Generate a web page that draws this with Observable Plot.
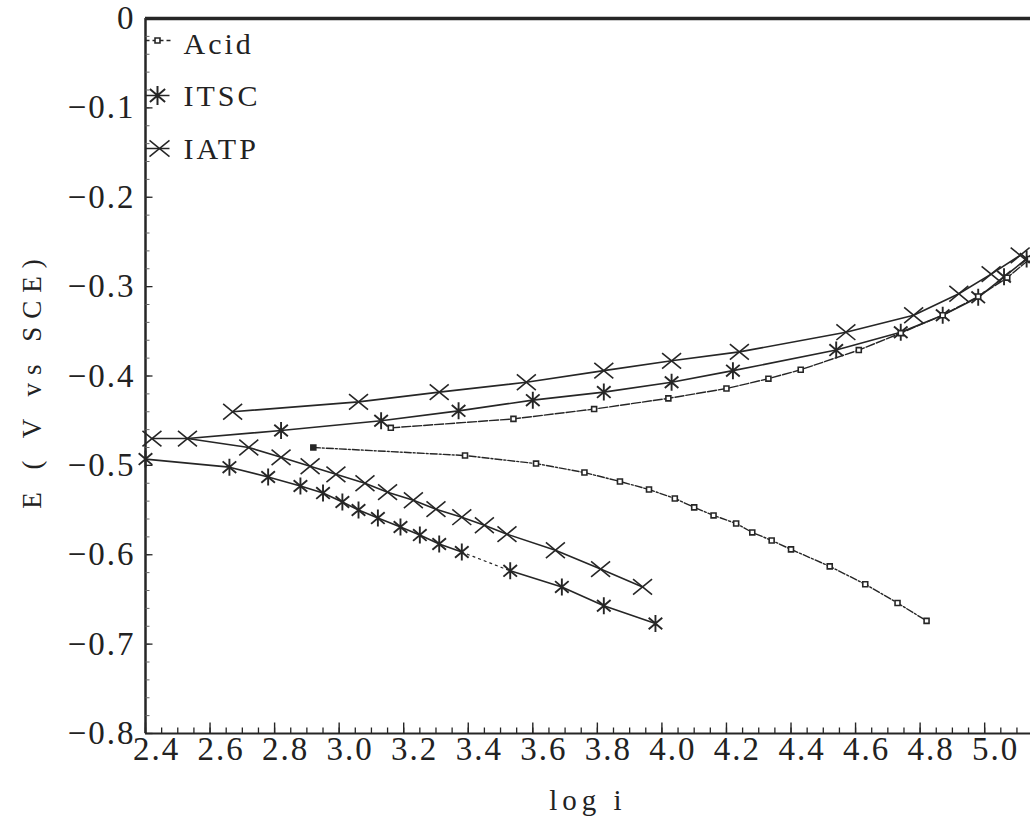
<!DOCTYPE html>
<html>
<head>
<meta charset="utf-8">
<script src="https://cdn.jsdelivr.net/npm/d3@7"></script>
<script src="https://cdn.jsdelivr.net/npm/@observablehq/plot@0.6"></script>
<style>
html, body { margin: 0; padding: 0; background: #fff; }
#chart svg text { font-family: "Liberation Serif", serif !important; }
#chart svg g[font-size="33"] text { letter-spacing: 2px; }
#chart svg g[font-size="30"] text { letter-spacing: 3px; }
#chart svg g[font-size="27"] text { letter-spacing: 8px; }
#chart svg g[font-size="29"] text { letter-spacing: 5px; }
</style>
</head>
<body>
<div id="chart"></div>
<script>
// ---- data (log i, E in V vs SCE) ----
const acidAnodicX = [3.16, 3.54, 3.79, 4.02, 4.20, 4.33, 4.43, 4.61, 4.74, 4.87, 4.98, 5.07, 5.14];
const acidAnodicE = [-0.458, -0.448, -0.437, -0.425, -0.414, -0.403, -0.393, -0.371, -0.352, -0.332, -0.311, -0.290, -0.269];
const acidCathodicX = [2.92, 3.39, 3.61, 3.76, 3.87, 3.96, 4.04, 4.10, 4.16, 4.23, 4.28, 4.34, 4.40, 4.52, 4.63, 4.73, 4.82];
const acidCathodicE = [-0.480, -0.489, -0.498, -0.508, -0.518, -0.527, -0.537, -0.547, -0.556, -0.565, -0.575, -0.584, -0.594, -0.613, -0.633, -0.654, -0.674];

const itscAnodicStartX = [2.53];
const itscAnodicStartE = [-0.470];
const itscAnodicX = [2.82, 3.13, 3.37, 3.60, 3.82, 4.03, 4.22, 4.54, 4.74, 4.87, 4.98, 5.06, 5.13];
const itscAnodicE = [-0.461, -0.450, -0.439, -0.427, -0.418, -0.407, -0.394, -0.371, -0.351, -0.332, -0.312, -0.289, -0.269];
const itscCathodicX1 = [2.40, 2.66, 2.78, 2.88, 2.95, 3.01, 3.06, 3.12, 3.19, 3.25, 3.31, 3.38];
const itscCathodicE1 = [-0.493, -0.502, -0.513, -0.523, -0.531, -0.541, -0.550, -0.559, -0.569, -0.578, -0.588, -0.597];
const itscCathodicX2 = [3.53, 3.69, 3.82, 3.98];
const itscCathodicE2 = [-0.618, -0.636, -0.657, -0.677];

const iatpAnodicX = [2.67, 3.06, 3.31, 3.58, 3.82, 4.03, 4.24, 4.57, 4.78, 4.92, 5.02, 5.11];
const iatpAnodicE = [-0.440, -0.429, -0.418, -0.407, -0.394, -0.383, -0.373, -0.351, -0.332, -0.308, -0.286, -0.265];
const iatpCathodicX = [2.42, 2.53, 2.72, 2.82, 2.91, 2.99, 3.08, 3.15, 3.23, 3.30, 3.38, 3.45, 3.52, 3.67, 3.81, 3.94];
const iatpCathodicE = [-0.470, -0.470, -0.480, -0.491, -0.501, -0.510, -0.520, -0.530, -0.539, -0.549, -0.558, -0.567, -0.577, -0.595, -0.616, -0.636];

const legendLabels = ["Acid", "ITSC", "IATP"];
const xTickValues = [2.4, 2.6, 2.8, 3.0, 3.2, 3.4, 3.6, 3.8, 4.0, 4.2, 4.4, 4.6, 4.8, 5.0];
const yTickValues = [0, -0.1, -0.2, -0.3, -0.4, -0.5, -0.6, -0.7, -0.8];
const xTitle = "log i";
const yTitle = "E ( V vs SCE)";

// ---- helpers ----
const pts = (xs, es) => xs.map((x, i) => ({x, e: es[i]}));
const ink = "#262626";
const serif = "Liberation Serif";

const symAsterisk = { draw(ctx, size) {
  const r = Math.sqrt(size / Math.PI);
  const a = r * 0.8;
  ctx.moveTo(0, -r); ctx.lineTo(0, r);
  ctx.moveTo(-a, -a * 0.85); ctx.lineTo(a, a * 0.85);
  ctx.moveTo(-a, a * 0.85); ctx.lineTo(a, -a * 0.85);
}};
const symCross = { draw(ctx, size) {
  const r = Math.sqrt(size / Math.PI);
  const b = r * 0.82;
  ctx.moveTo(-r, -b); ctx.lineTo(r, b);
  ctx.moveTo(-r, b); ctx.lineTo(r, -b);
}};
const symTickRight = { draw(ctx, size) {
  const r = Math.sqrt(size / Math.PI);
  ctx.moveTo(0, 0); ctx.lineTo(r, 0);
}};
const symTickUp = { draw(ctx, size) {
  const r = Math.sqrt(size / Math.PI);
  ctx.moveTo(0, 0); ctx.lineTo(0, -r);
}};
const symHLine = { draw(ctx, size) {
  const r = Math.sqrt(size / Math.PI);
  ctx.moveTo(-r, 0); ctx.lineTo(r, 0);
}};

const acidA = pts(acidAnodicX, acidAnodicE);
const acidC = pts(acidCathodicX, acidCathodicE);
const itscStart = pts(itscAnodicStartX, itscAnodicStartE);
const itscA = pts(itscAnodicX, itscAnodicE);
const itscC1 = pts(itscCathodicX1, itscCathodicE1);
const itscC2 = pts(itscCathodicX2, itscCathodicE2);
const iatpA = pts(iatpAnodicX, iatpAnodicE);
const iatpC = pts(iatpCathodicX, iatpCathodicE);

const xMinor = d3.range(0, 55).map(i => 2.4 + i * 0.05).filter(v => v <= 5.14);
const yMinor = d3.range(0, 41).map(i => -i * 0.02);

const lineOpts = {x: "x", y: "e", stroke: ink, strokeWidth: 1.6};

const legendMarks = [
  // Acid
  Plot.dot([legendLabels[0]], {frameAnchor: "top-left", dx: 13, dy: 22, symbol: symHLine, r: 13, fill: "none", stroke: ink, strokeWidth: 1.5, strokeDasharray: "4,3"}),
  Plot.dot([legendLabels[0]], {frameAnchor: "top-left", dx: 12, dy: 22, symbol: "square", r: 2.8, fill: "white", stroke: ink, strokeWidth: 1.6}),
  Plot.text([legendLabels[0]], {frameAnchor: "top-left", dx: 38, dy: 26, textAnchor: "start", lineAnchor: "middle", fontSize: 30, fontFamily: serif, fill: "#222"}),
  // ITSC
  Plot.dot([legendLabels[1]], {frameAnchor: "top-left", dx: 12, dy: 77, symbol: symHLine, r: 12, fill: "none", stroke: ink, strokeWidth: 1.5}),
  Plot.dot([legendLabels[1]], {frameAnchor: "top-left", dx: 12, dy: 77, symbol: symAsterisk, r: 9.5, fill: "none", stroke: ink, strokeWidth: 2}),
  Plot.text([legendLabels[1]], {frameAnchor: "top-left", dx: 38, dy: 78, textAnchor: "start", lineAnchor: "middle", fontSize: 30, fontFamily: serif, fill: "#222"}),
  // IATP
  Plot.dot([legendLabels[2]], {frameAnchor: "top-left", dx: 12, dy: 130, symbol: symHLine, r: 12, fill: "none", stroke: ink, strokeWidth: 1.5}),
  Plot.dot([legendLabels[2]], {frameAnchor: "top-left", dx: 14, dy: 130, symbol: symCross, r: 10, fill: "none", stroke: ink, strokeWidth: 1.5}),
  Plot.text([legendLabels[2]], {frameAnchor: "top-left", dx: 38, dy: 131, textAnchor: "start", lineAnchor: "middle", fontSize: 30, fontFamily: serif, fill: "#222"})
];

const chart = Plot.plot({
  width: 1030,
  height: 829,
  marginLeft: 145,
  marginRight: 0,
  marginTop: 18,
  marginBottom: 96,
  x: {domain: [2.4, 5.142], axis: null},
  y: {domain: [-0.8, 0], axis: null},
  style: "background: #fff; color: #222; font-family: 'Liberation Serif', serif;",
  marks: [
    // frame lines
    Plot.ruleY([0], {stroke: ink, strokeWidth: 3.5}),
    Plot.ruleY([-0.8], {stroke: ink, strokeWidth: 2}),
    Plot.ruleX([2.4], {stroke: ink, strokeWidth: 2.5}),
    // inward ticks
    Plot.dot(yMinor, {y: d => d, frameAnchor: "left", symbol: symTickRight, r: 4, fill: "none", stroke: "#666", strokeWidth: 1}),
    Plot.dot(yTickValues, {y: d => d, frameAnchor: "left", symbol: symTickRight, r: 7, fill: "none", stroke: ink, strokeWidth: 1.3}),
    Plot.dot(xMinor, {x: d => d, frameAnchor: "bottom", symbol: symTickUp, r: 6, fill: "none", stroke: ink, strokeWidth: 1.3}),
    Plot.dot(xTickValues, {x: d => d, frameAnchor: "bottom", symbol: symTickUp, r: 11, fill: "none", stroke: ink, strokeWidth: 1.4}),
    // tick labels
    Plot.axisX(xTickValues, {anchor: "bottom", tickSize: 0, tickPadding: 3, dx: 11, fontSize: 33, fontFamily: serif, fill: "#222", label: null, tickFormat: d => d.toFixed(1)}),
    Plot.axisY(yTickValues, {anchor: "left", tickSize: 0, tickPadding: 10, fontSize: 33, fontFamily: serif, fill: "#222", label: null, tickFormat: d => d === 0 ? "0" : d3.format(".1f")(d)}),
    // axis titles
    Plot.text([yTitle], {frameAnchor: "left", dx: -113, dy: 4, rotate: -90, textAnchor: "middle", lineAnchor: "middle", fontSize: 27, fontFamily: serif, fill: "#222"}),
    Plot.text([xTitle], {frameAnchor: "bottom", dy: 67, textAnchor: "middle", lineAnchor: "middle", fontSize: 29, fontFamily: serif, fill: "#222"}),
    // lines
    Plot.line(acidA, {...lineOpts, strokeWidth: 1.4, strokeDasharray: "9,2"}),
    Plot.line(acidC, {...lineOpts, strokeWidth: 1.4, strokeDasharray: "7,2,2,2"}),
    Plot.line([...itscStart, ...itscA], lineOpts),
    Plot.line(itscC1, lineOpts),
    Plot.line([itscC1[itscC1.length - 1], itscC2[0]], {...lineOpts, strokeWidth: 1.2, strokeDasharray: "2,4"}),
    Plot.line(itscC2, lineOpts),
    Plot.line(iatpA, lineOpts),
    Plot.line(iatpC, lineOpts),
    // markers
    Plot.dot(iatpA, {x: "x", y: "e", symbol: symCross, r: 9.5, fill: "none", stroke: ink, strokeWidth: 1.6}),
    Plot.dot(iatpC, {x: "x", y: "e", symbol: symCross, r: 9.5, fill: "none", stroke: ink, strokeWidth: 1.6}),
    Plot.dot(itscA, {x: "x", y: "e", symbol: symAsterisk, r: 8.5, fill: "none", stroke: ink, strokeWidth: 1.9}),
    Plot.dot([...itscC1, ...itscC2], {x: "x", y: "e", symbol: symAsterisk, r: 8.5, fill: "none", stroke: ink, strokeWidth: 1.9}),
    Plot.dot(acidA, {x: "x", y: "e", symbol: "square", r: 2.8, fill: "white", stroke: ink, strokeWidth: 1.6}),
    Plot.dot(acidC, {x: "x", y: "e", symbol: "square", r: 2.8, fill: (d, i) => i === 0 ? ink : "white", stroke: ink, strokeWidth: 1.6}),
    ...legendMarks
  ]
});

// make sure every text uses the serif face
chart.setAttribute("font-family", "Liberation Serif");
chart.querySelectorAll("g[font-family]").forEach(g => g.setAttribute("font-family", "Liberation Serif"));
chart.querySelectorAll("text").forEach(t => {
  t.setAttribute("font-family", "Liberation Serif");
  t.style.setProperty("font-family", "'Liberation Serif', serif", "important");
});

document.getElementById("chart").appendChild(chart);
</script>
</body>
</html>
